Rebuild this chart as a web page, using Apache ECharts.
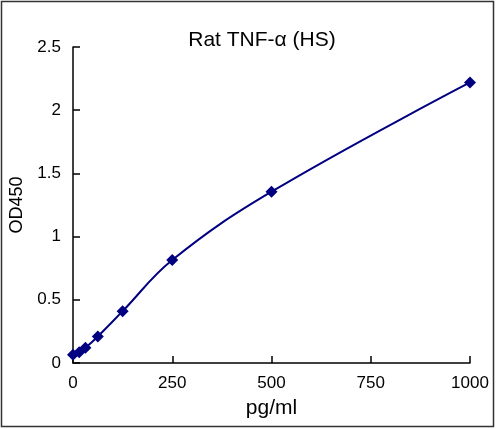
<!DOCTYPE html>
<html>
<head>
<meta charset="utf-8">
<script src="https://cdn.jsdelivr.net/npm/echarts@6/dist/echarts.min.js"></script>
<style>
    html, body { margin: 0; padding: 0; background: #fff; }
    #chart { width: 498px; height: 429px; }
</style>
</head>
<body>
<div id="chart"></div>
<script>
const concentrations = [0, 15.6, 31.25, 62.5, 125, 250, 500, 1000];
const odValues = [0.065, 0.085, 0.12, 0.21, 0.41, 0.815, 1.355, 2.22];
const xTicks = [0, 250, 500, 750, 1000];
const yTicks = [0, 0.5, 1, 1.5, 2, 2.5];

const chart = echarts.init(document.getElementById('chart'));
const font = 'Arial, "Liberation Sans", sans-serif';

const option = {
    animation: false,
    graphic: [
        {
            type: 'rect',
            shape: { x: 1.5, y: 1.5, width: 492, height: 425 },
            style: { fill: 'none', stroke: '#333', lineWidth: 1.5 }
        },
        {
            type: 'text',
            x: 262,
            y: 40,
            style: {
                text: 'Rat TNF-α (HS)',
                font: '21px ' + font,
                fill: '#000',
                align: 'center',
                verticalAlign: 'middle'
            }
        }
    ],
    grid: { left: 73, right: 28, top: 47, bottom: 66 },
    xAxis: {
        type: 'value',
        min: 0,
        max: 1000,
        interval: 250,
        name: 'pg/ml',
        nameLocation: 'middle',
        nameGap: 35,
        nameTextStyle: { fontFamily: font, fontSize: 21, color: '#000' },
        axisLine: { lineStyle: { color: '#000', width: 1.5 } },
        axisTick: { inside: true, length: 7, lineStyle: { color: '#000', width: 1.5 } },
        axisLabel: {
            fontFamily: font, fontSize: 17, color: '#000', margin: 12,
            formatter: v => xTicks.includes(v) ? String(v) : ''
        },
        splitLine: { show: false }
    },
    yAxis: {
        type: 'value',
        min: 0,
        max: 2.5,
        interval: 0.5,
        name: 'OD450',
        nameLocation: 'middle',
        nameGap: 46,
        nameTextStyle: { fontFamily: font, fontSize: 18, color: '#000' },
        axisLine: { show: true, lineStyle: { color: '#000', width: 1.5 } },
        axisTick: { show: true, inside: true, length: 7, lineStyle: { color: '#000', width: 1.5 } },
        axisLabel: {
            fontFamily: font, fontSize: 17, color: '#000', margin: 12,
            formatter: v => yTicks.includes(v) ? String(v) : ''
        },
        splitLine: { show: false }
    },
    series: [
        {
            type: 'line',
            data: concentrations.map((c, i) => [c, odValues[i]]),
            smooth: 0.4,
            symbol: 'diamond',
            symbolSize: 12,
            showAllSymbol: true,
            lineStyle: { color: '#000080', width: 2 },
            itemStyle: { color: '#000080' }
        }
    ]
};

chart.setOption(option);
window.addEventListener('resize', () => chart.resize());
</script>
</body>
</html>
